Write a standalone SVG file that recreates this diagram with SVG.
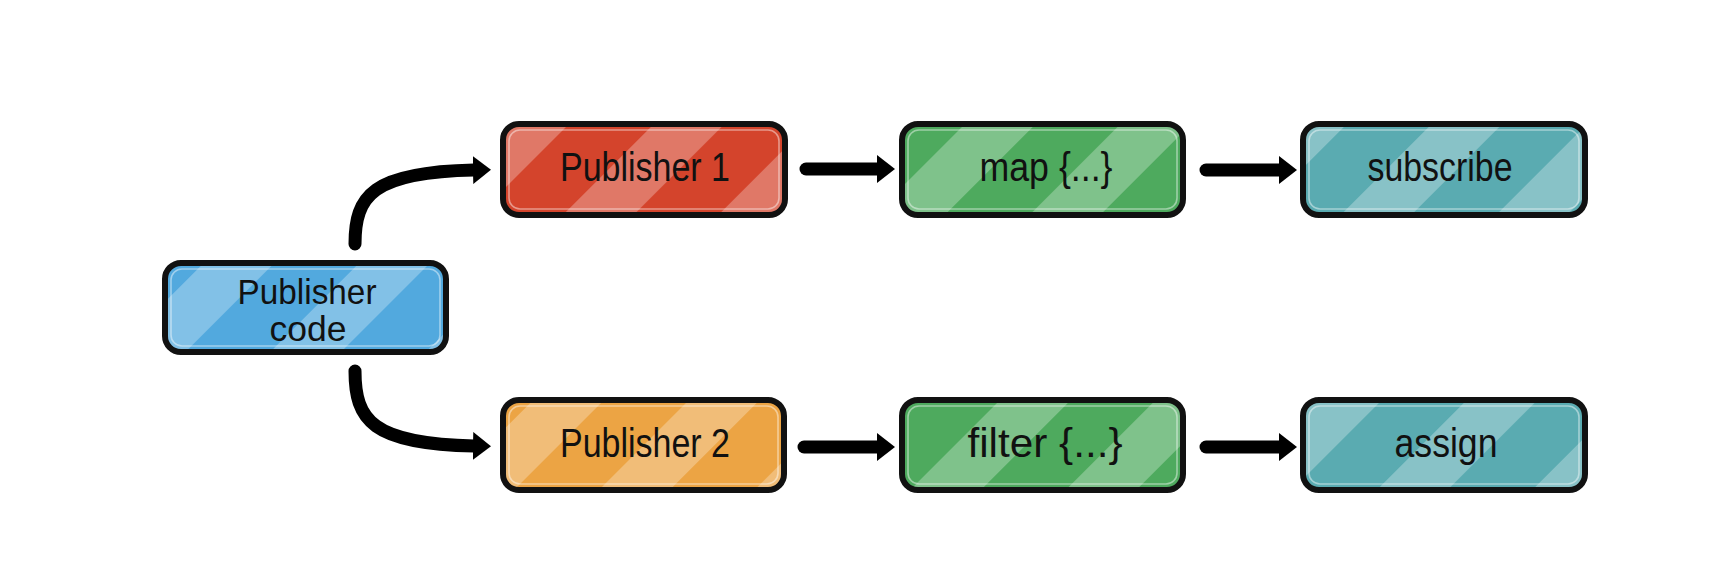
<svg xmlns="http://www.w3.org/2000/svg" width="1718" height="584" viewBox="0 0 1718 584">
  <style>
    .box { stroke: #111; stroke-width: 6; }
    .hl { fill: none; stroke-width: 1.6; stroke: #ffffff; stroke-opacity: 0.45; }
    .stripe { fill: url(#stripes); stroke: none; }
    .lbl { font-family: "Liberation Sans", "Open Sans", sans-serif; font-size: 40px; fill: #111; text-anchor: middle; }
    .lbl2 { font-size: 35px; }
    .conn { fill: none; stroke: #000; stroke-width: 13; stroke-linecap: round; marker-end: url(#head); }
    .blue { fill: #52A9DE; }
    .red { fill: #D4442C; }
    .green { fill: #4EAA5E; }
    .teal { fill: #5AABB1; }
    .orange { fill: #ECA444; }
  </style>
  <defs>
    <pattern id="stripes" patternUnits="userSpaceOnUse" width="110" height="110" patternTransform="rotate(45)">
      <rect x="0" y="0" width="50" height="110" fill="#ffffff" fill-opacity="0.28"/>
    </pattern>
    <marker id="head" markerUnits="userSpaceOnUse" viewBox="0 0 18 28" markerWidth="18" markerHeight="28" refX="1" refY="14" orient="auto">
      <path d="M0,0 L18,14 L0,28 Z" fill="#000"/>
    </marker>
  </defs>
  <rect width="1718" height="584" fill="#ffffff"/>

  <g id="connectors">
    <path class="conn" d="M355,244 C355,196 372,172 474,170"/>
    <path class="conn" d="M355,371 C355,420 372,444 474,446"/>
    <path class="conn" d="M806,169 L878,169"/>
    <path class="conn" d="M1206,170 L1280,170"/>
    <path class="conn" d="M804,447 L878,447"/>
    <path class="conn" d="M1206,447 L1280,447"/>
  </g>

  <g id="publisher-code">
    <rect class="box blue" x="165" y="263" width="281" height="89" rx="16"/>
    <rect class="stripe" x="168" y="266" width="275" height="83" rx="13"/>
    <rect class="hl" x="171" y="269" width="269" height="77" rx="11"/>
    <text class="lbl lbl2" x="307" y="304" textLength="139" lengthAdjust="spacingAndGlyphs">Publisher</text>
    <text class="lbl lbl2" x="308" y="341" textLength="77" lengthAdjust="spacingAndGlyphs">code</text>
  </g>

  <g id="publisher-1">
    <rect class="box red" x="503" y="124" width="282" height="91" rx="16"/>
    <rect class="stripe" x="506" y="127" width="276" height="85" rx="13"/>
    <rect class="hl" x="509" y="130" width="270" height="79" rx="11"/>
    <text class="lbl" x="645" y="181" textLength="170" lengthAdjust="spacingAndGlyphs">Publisher 1</text>
  </g>

  <g id="map">
    <rect class="box green" x="902" y="124" width="281" height="91" rx="16"/>
    <rect class="stripe" x="905" y="127" width="275" height="85" rx="13"/>
    <rect class="hl" x="908" y="130" width="269" height="79" rx="11"/>
    <text class="lbl" x="1046" y="181" textLength="133" lengthAdjust="spacingAndGlyphs">map {...}</text>
  </g>

  <g id="subscribe">
    <rect class="box teal" x="1303" y="124" width="282" height="91" rx="16"/>
    <rect class="stripe" x="1306" y="127" width="276" height="85" rx="13"/>
    <rect class="hl" x="1309" y="130" width="270" height="79" rx="11"/>
    <text class="lbl" x="1440" y="181" textLength="145" lengthAdjust="spacingAndGlyphs">subscribe</text>
  </g>

  <g id="publisher-2">
    <rect class="box orange" x="503" y="400" width="281" height="90" rx="16"/>
    <rect class="stripe" x="506" y="403" width="275" height="84" rx="13"/>
    <rect class="hl" x="509" y="406" width="269" height="78" rx="11"/>
    <text class="lbl" x="645" y="457" textLength="170" lengthAdjust="spacingAndGlyphs">Publisher 2</text>
  </g>

  <g id="filter">
    <rect class="box green" x="902" y="400" width="281" height="90" rx="16"/>
    <rect class="stripe" x="905" y="403" width="275" height="84" rx="13"/>
    <rect class="hl" x="908" y="406" width="269" height="78" rx="11"/>
    <text class="lbl" x="1045" y="457" textLength="155" lengthAdjust="spacingAndGlyphs">filter {...}</text>
  </g>

  <g id="assign">
    <rect class="box teal" x="1303" y="400" width="282" height="90" rx="16"/>
    <rect class="stripe" x="1306" y="403" width="276" height="84" rx="13"/>
    <rect class="hl" x="1309" y="406" width="270" height="78" rx="11"/>
    <text class="lbl" x="1446" y="457" textLength="103" lengthAdjust="spacingAndGlyphs">assign</text>
  </g>
</svg>
